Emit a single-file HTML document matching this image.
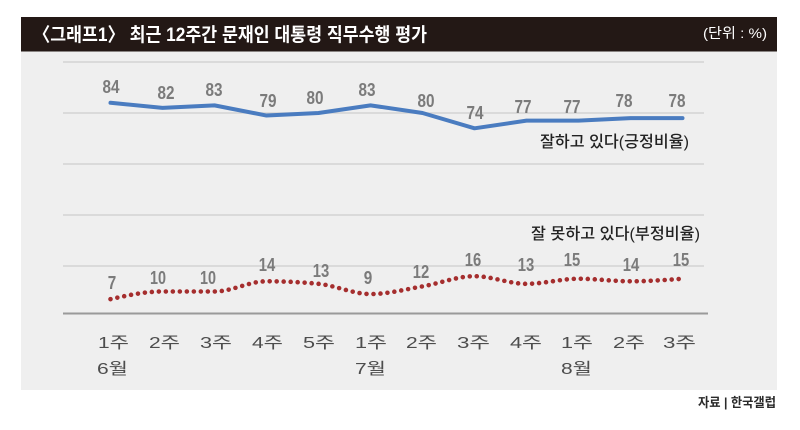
<!DOCTYPE html>
<html><head><meta charset="utf-8"><style>
html,body{margin:0;padding:0;background:#fff;width:800px;height:430px;overflow:hidden}
svg{display:block}
text{font-family:"Liberation Sans","Noto Sans CJK KR",sans-serif}
.v{font-size:18px;font-weight:bold;fill:#7b7b7b;text-anchor:middle}
.ax{font-size:16px;fill:#4d4d4d}
.lg{font-size:16px;font-weight:500;fill:#222}
</style></head><body>
<svg width="800" height="430" viewBox="0 0 800 430" xmlns="http://www.w3.org/2000/svg">
<rect x="0" y="0" width="800" height="430" fill="#fff"/>
<rect x="21" y="17" width="756" height="34.5" fill="#231815"/>
<rect x="21" y="51.5" width="756" height="338.5" fill="#efefef"/>
<text x="33" y="41" font-size="19" font-weight="bold" fill="#fff" textLength="394" lengthAdjust="spacingAndGlyphs">〈그래프1〉 최근 12주간 문재인 대통령 직무수행 평가</text>
<text x="703" y="38" font-size="14" fill="#fff" textLength="64" lengthAdjust="spacingAndGlyphs">(단위 : %)</text>

<g stroke="#d3d3d3" stroke-width="1.6">
<line x1="63" y1="62" x2="704" y2="62"/>
<line x1="63" y1="113" x2="704" y2="113"/>
<line x1="63" y1="164" x2="704" y2="164"/>
<line x1="63" y1="215" x2="704" y2="215"/>
<line x1="63" y1="266" x2="704" y2="266"/>
</g>
<line x1="63" y1="313.5" x2="708" y2="313.5" stroke="#9a9a9a" stroke-width="2"/>

<polyline fill="none" stroke="#4a7cc0" stroke-width="4" stroke-linejoin="round" stroke-linecap="round"
points="110.5,102.8 162.5,107.9 214.5,105.35 266.5,115.55 318.5,113 370.5,105.35 422.5,113 474.5,128.3 526.5,120.65 578.5,120.65 630.5,118.1 682.5,118.1"/>

<path fill="none" stroke="#a52e2e" stroke-width="4.6" stroke-linecap="round" stroke-dasharray="0 7"
d="M110.5,299.15 C127.83,295.33 145.17,291.5 162.5,291.5 C179.83,291.5 197.17,291.5 214.5,291.5 C231.83,291.5 249.17,281.3 266.5,281.3 C283.83,281.3 301.17,282.15 318.5,283.85 C335.83,285.55 353.17,294.05 370.5,294.05 C387.83,294.05 405.17,289.375 422.5,286.4 C439.83,283.425 457.17,276.2 474.5,276.2 C491.83,276.2 509.17,283.85 526.5,283.85 C543.83,283.85 561.17,278.75 578.5,278.75 C595.83,278.75 613.17,281.3 630.5,281.3 C647.83,281.3 665.17,280.025 682.5,278.75"/>

<g class="v">
<text x="111" y="93" textLength="17" lengthAdjust="spacingAndGlyphs">84</text>
<text x="166" y="99" textLength="17" lengthAdjust="spacingAndGlyphs">82</text>
<text x="214" y="96" textLength="17" lengthAdjust="spacingAndGlyphs">83</text>
<text x="268" y="107" textLength="17" lengthAdjust="spacingAndGlyphs">79</text>
<text x="315" y="104" textLength="17" lengthAdjust="spacingAndGlyphs">80</text>
<text x="367" y="96" textLength="17" lengthAdjust="spacingAndGlyphs">83</text>
<text x="426" y="107" textLength="17" lengthAdjust="spacingAndGlyphs">80</text>
<text x="475" y="119" textLength="17" lengthAdjust="spacingAndGlyphs">74</text>
<text x="523" y="113" textLength="17" lengthAdjust="spacingAndGlyphs">77</text>
<text x="572" y="113" textLength="17" lengthAdjust="spacingAndGlyphs">77</text>
<text x="624" y="107" textLength="17" lengthAdjust="spacingAndGlyphs">78</text>
<text x="677" y="107" textLength="17" lengthAdjust="spacingAndGlyphs">78</text>

<text x="112" y="289" textLength="8.5" lengthAdjust="spacingAndGlyphs">7</text>
<text x="158" y="284" textLength="16" lengthAdjust="spacingAndGlyphs">10</text>
<text x="208" y="284" textLength="16" lengthAdjust="spacingAndGlyphs">10</text>
<text x="267" y="271" textLength="16.5" lengthAdjust="spacingAndGlyphs">14</text>
<text x="321" y="277" textLength="16.5" lengthAdjust="spacingAndGlyphs">13</text>
<text x="368" y="284" textLength="8.5" lengthAdjust="spacingAndGlyphs">9</text>
<text x="421" y="278" textLength="16.5" lengthAdjust="spacingAndGlyphs">12</text>
<text x="473" y="266" textLength="16.5" lengthAdjust="spacingAndGlyphs">16</text>
<text x="526" y="271" textLength="16.5" lengthAdjust="spacingAndGlyphs">13</text>
<text x="572" y="266" textLength="16.5" lengthAdjust="spacingAndGlyphs">15</text>
<text x="631" y="271" textLength="16.5" lengthAdjust="spacingAndGlyphs">14</text>
<text x="681" y="266" textLength="16.5" lengthAdjust="spacingAndGlyphs">15</text>
</g>

<text class="lg" x="540" y="147" textLength="149" lengthAdjust="spacingAndGlyphs">잘하고 있다(긍정비율)</text>
<text class="lg" x="531" y="239" textLength="169" lengthAdjust="spacingAndGlyphs">잘 못하고 있다(부정비율)</text>

<g class="ax">
<text x="98" y="348" textLength="31" lengthAdjust="spacingAndGlyphs">1주</text>
<text x="149" y="348" textLength="31" lengthAdjust="spacingAndGlyphs">2주</text>
<text x="200" y="348" textLength="32" lengthAdjust="spacingAndGlyphs">3주</text>
<text x="252" y="348" textLength="31" lengthAdjust="spacingAndGlyphs">4주</text>
<text x="303" y="348" textLength="32" lengthAdjust="spacingAndGlyphs">5주</text>
<text x="355" y="348" textLength="32" lengthAdjust="spacingAndGlyphs">1주</text>
<text x="406" y="348" textLength="31" lengthAdjust="spacingAndGlyphs">2주</text>
<text x="457" y="348" textLength="33" lengthAdjust="spacingAndGlyphs">3주</text>
<text x="510" y="348" textLength="32" lengthAdjust="spacingAndGlyphs">4주</text>
<text x="561" y="348" textLength="32" lengthAdjust="spacingAndGlyphs">1주</text>
<text x="613" y="348" textLength="32" lengthAdjust="spacingAndGlyphs">2주</text>
<text x="663" y="348" textLength="33" lengthAdjust="spacingAndGlyphs">3주</text>
<text x="97" y="374" textLength="31" lengthAdjust="spacingAndGlyphs">6월</text>
<text x="355" y="374" textLength="31" lengthAdjust="spacingAndGlyphs">7월</text>
<text x="561" y="374" textLength="31" lengthAdjust="spacingAndGlyphs">8월</text>
</g>

<text x="698" y="407" font-size="13" font-weight="bold" fill="#2a2a2a" textLength="78" lengthAdjust="spacingAndGlyphs">자료 | 한국갤럽</text>
</svg>
</body></html>
